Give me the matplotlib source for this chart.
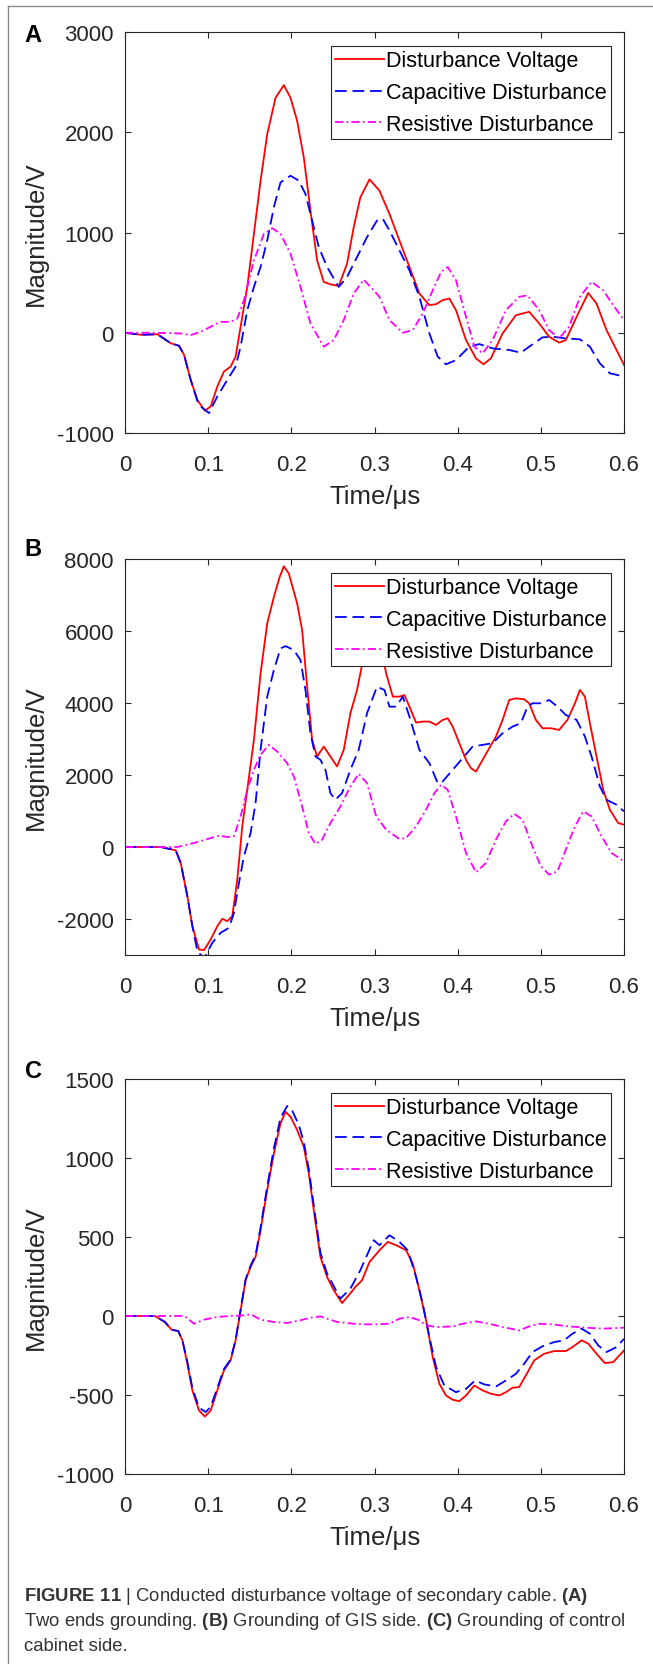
import matplotlib
matplotlib.use('Agg')
import matplotlib.pyplot as plt
from matplotlib.lines import Line2D

plt.rcParams['font.family'] = ['Liberation Sans', 'DejaVu Sans']
plt.rcParams['axes.unicode_minus'] = False
plt.rcParams['mathtext.fontset'] = 'custom'
plt.rcParams['mathtext.rm'] = 'Liberation Sans'
plt.rcParams['mathtext.bf'] = 'Liberation Sans:bold'

# ---------------- data ----------------
x_ticks = [0, 0.1, 0.2, 0.3, 0.4, 0.5, 0.6]
x_tick_labels = ['0', '0.1', '0.2', '0.3', '0.4', '0.5', '0.6']
series_names = ['Disturbance Voltage', 'Capacitive Disturbance', 'Resistive Disturbance']

# (A) two ends grounding
a_volt_t = [0, 0.019, 0.039, 0.055, 0.065, 0.071, 0.079, 0.087, 0.096, 0.103, 0.111, 0.119, 0.127,
            0.133, 0.139, 0.147, 0.155, 0.163, 0.171, 0.181, 0.191, 0.199, 0.207, 0.215, 0.223,
            0.231, 0.239, 0.247, 0.257, 0.267, 0.275, 0.283, 0.294, 0.306, 0.318, 0.330, 0.342,
            0.354, 0.366, 0.374, 0.382, 0.390, 0.398, 0.410, 0.422, 0.431, 0.440, 0.454, 0.470,
            0.486, 0.498, 0.510, 0.522, 0.530, 0.543, 0.557, 0.567, 0.579, 0.591, 0.600]
a_volt_v = [0, -20, -15, -105, -130, -220, -470, -670, -778, -735, -536, -387, -338,
            -238, 60, 457, 987, 1517, 1980, 2344, 2470, 2344, 2113, 1748, 1219,
            722, 507, 483, 467, 689, 1053, 1351, 1530, 1417, 1185, 920, 656,
            391, 275, 285, 325, 341, 225, -73, -255, -315, -255, -7, 175,
            209, 93, -40, -99, -73, 159, 397, 291, 26, -172, -321]
a_cap_t = [0, 0.019, 0.039, 0.055, 0.065, 0.071, 0.079, 0.087, 0.091, 0.101, 0.111, 0.123, 0.133,
           0.139, 0.147, 0.155, 0.163, 0.171, 0.179, 0.187, 0.199, 0.209, 0.217, 0.225, 0.233,
           0.243, 0.257, 0.267, 0.279, 0.291, 0.303, 0.310, 0.318, 0.330, 0.342, 0.354, 0.366,
           0.376, 0.386, 0.398, 0.414, 0.426, 0.442, 0.462, 0.476, 0.486, 0.502, 0.514, 0.530,
           0.547, 0.559, 0.571, 0.583, 0.600]
a_cap_v = [0, -20, -15, -105, -130, -220, -470, -680, -735, -801, -636, -470, -338,
           -139, 225, 457, 656, 920, 1252, 1500, 1566, 1517, 1384, 1119, 854,
           656, 457, 556, 755, 954, 1119, 1136, 1020, 821, 623, 358, -7,
           -238, -315, -272, -139, -113, -156, -172, -199, -139, -46, -40, -56,
           -66, -139, -305, -404, -437]
a_res_t = [0, 0.035, 0.067, 0.079, 0.091, 0.103, 0.115, 0.127, 0.135, 0.143, 0.155, 0.167, 0.177,
           0.187, 0.199, 0.211, 0.223, 0.239, 0.251, 0.263, 0.275, 0.287, 0.299, 0.306, 0.318,
           0.334, 0.346, 0.358, 0.370, 0.380, 0.388, 0.398, 0.410, 0.420, 0.430, 0.442, 0.458,
           0.474, 0.484, 0.498, 0.510, 0.522, 0.534, 0.547, 0.561, 0.575, 0.587, 0.600]
a_res_v = [0, 0, -7, -23, 10, 60, 109, 109, 142, 325, 722, 987, 1043,
           987, 788, 457, 93, -139, -73, 126, 391, 530, 424, 358, 126,
           0, 26, 192, 424, 606, 656, 523, 159, -139, -205, -73, 225,
           358, 374, 225, 26, -56, 60, 358, 507, 424, 275, 126]

# (B) grounding of GIS side
b_volt_t = [0, 0.043, 0.061, 0.067, 0.075, 0.081, 0.089, 0.095, 0.103, 0.111, 0.117, 0.123, 0.129,
            0.135, 0.141, 0.147, 0.155, 0.163, 0.171, 0.179, 0.186, 0.191, 0.197, 0.207, 0.213,
            0.219, 0.225, 0.231, 0.239, 0.247, 0.255, 0.263, 0.271, 0.279, 0.287, 0.298, 0.310,
            0.314, 0.322, 0.330, 0.336, 0.342, 0.350, 0.358, 0.366, 0.374, 0.382, 0.388, 0.394,
            0.402, 0.410, 0.416, 0.422, 0.430, 0.438, 0.446, 0.454, 0.462, 0.470, 0.480, 0.486,
            0.494, 0.502, 0.512, 0.522, 0.532, 0.541, 0.547, 0.553, 0.559, 0.567, 0.575, 0.583,
            0.593, 0.600]
b_volt_v = [0, 0, -92, -444, -1368, -2200, -2846, -2865, -2569, -2200, -1996, -2060, -1922,
            -906, 573, 1589, 2975, 4823, 6209, 6948, 7503, 7799, 7595, 6764, 6025,
            4454, 2975, 2513, 2790, 2513, 2236, 2698, 3714, 4361, 5285, 5800, 5285,
            4823, 4177, 4177, 4223, 3899, 3456, 3484, 3484, 3391, 3530, 3576, 3345,
            2883, 2421, 2190, 2097, 2421, 2744, 3068, 3530, 4084, 4130, 4103, 3992,
            3530, 3299, 3299, 3252, 3530, 3992, 4361, 4177, 3437, 2513, 1589, 1035,
            665, 619]
b_cap_t = [0, 0.043, 0.061, 0.067, 0.075, 0.081, 0.087, 0.095, 0.105, 0.115, 0.125, 0.131, 0.137,
           0.143, 0.151, 0.157, 0.163, 0.171, 0.179, 0.187, 0.193, 0.203, 0.211, 0.217, 0.223,
           0.229, 0.235, 0.241, 0.247, 0.253, 0.261, 0.271, 0.281, 0.291, 0.303, 0.312, 0.318,
           0.326, 0.334, 0.342, 0.354, 0.366, 0.376, 0.382, 0.394, 0.406, 0.418, 0.430, 0.442,
           0.454, 0.466, 0.476, 0.484, 0.490, 0.500, 0.510, 0.520, 0.530, 0.543, 0.553, 0.561,
           0.571, 0.579, 0.591, 0.600]
b_cap_v = [0, 0, -92, -444, -1368, -2200, -2890, -3100, -2660, -2384, -2245, -1830, -998,
           -259, 388, 1220, 2698, 4177, 4916, 5516, 5581, 5470, 5193, 4361, 3160,
           2513, 2421, 2144, 1497, 1312, 1497, 2144, 2698, 3714, 4454, 4361, 3899,
           3899, 4177, 3622, 2698, 2328, 1774, 1820, 2144, 2467, 2790, 2837, 2883,
           3160, 3345, 3437, 3899, 3992, 3992, 4084, 3899, 3668, 3530, 3068, 2513,
           1682, 1312, 1174, 989]
b_res_t = [0, 0.063, 0.083, 0.099, 0.113, 0.123, 0.131, 0.139, 0.147, 0.155, 0.163, 0.173, 0.183,
           0.195, 0.203, 0.213, 0.221, 0.229, 0.237, 0.247, 0.259, 0.271, 0.281, 0.291, 0.302,
           0.314, 0.330, 0.338, 0.350, 0.362, 0.372, 0.380, 0.388, 0.398, 0.410, 0.422, 0.434,
           0.446, 0.458, 0.468, 0.478, 0.490, 0.500, 0.510, 0.520, 0.530, 0.541, 0.551, 0.561,
           0.573, 0.585, 0.600]
b_res_v = [0, 0, 111, 222, 314, 277, 296, 850, 1589, 2144, 2559, 2837, 2652,
           2328, 1959, 1127, 388, 83, 203, 665, 1127, 1682, 2033, 1774, 850,
           480, 222, 250, 573, 1035, 1497, 1728, 1589, 850, -166, -702, -444,
           203, 711, 924, 758, 18, -536, -767, -675, -74, 573, 989, 850,
           296, -166, -397]

# (C) grounding of control cabinet side
c_volt_t = [0, 0.036, 0.048, 0.056, 0.064, 0.069, 0.075, 0.081, 0.089, 0.096, 0.103, 0.111, 0.119,
            0.127, 0.133, 0.139, 0.145, 0.151, 0.157, 0.163, 0.171, 0.179, 0.187, 0.193, 0.199,
            0.207, 0.215, 0.221, 0.227, 0.235, 0.243, 0.251, 0.261, 0.269, 0.277, 0.285, 0.294,
            0.306, 0.316, 0.326, 0.338, 0.346, 0.354, 0.362, 0.370, 0.378, 0.386, 0.394, 0.402,
            0.410, 0.420, 0.430, 0.440, 0.450, 0.458, 0.466, 0.474, 0.482, 0.492, 0.504, 0.516,
            0.530, 0.538, 0.549, 0.557, 0.567, 0.577, 0.587, 0.600]
c_volt_v = [0, 0, -38, -87, -95, -154, -302, -471, -598, -636, -598, -471, -344,
            -281, -154, 36, 226, 311, 374, 543, 797, 1029, 1219, 1293, 1261,
            1177, 1071, 902, 670, 374, 247, 163, 82, 131, 184, 226, 342,
            416, 469, 448, 416, 332, 163, -27, -260, -429, -503, -530, -539,
            -503, -440, -471, -492, -503, -482, -454, -450, -376, -281, -239, -222,
            -222, -197, -154, -175, -239, -298, -292, -218]
c_cap_t = [0, 0.036, 0.048, 0.056, 0.064, 0.069, 0.075, 0.081, 0.089, 0.097, 0.103, 0.111, 0.119,
           0.127, 0.133, 0.139, 0.145, 0.151, 0.157, 0.163, 0.171, 0.179, 0.187, 0.195, 0.201,
           0.209, 0.215, 0.221, 0.227, 0.235, 0.243, 0.259, 0.271, 0.283, 0.299, 0.306, 0.318,
           0.330, 0.340, 0.350, 0.358, 0.366, 0.374, 0.384, 0.398, 0.410, 0.421, 0.432, 0.446,
           0.458, 0.470, 0.480, 0.490, 0.502, 0.516, 0.528, 0.538, 0.549, 0.559, 0.569, 0.579,
           0.591, 0.600]
c_cap_v = [0, 0, -38, -87, -95, -154, -290, -455, -580, -608, -575, -455, -335,
           -275, -150, 40, 232, 318, 385, 560, 820, 1060, 1255, 1329, 1300,
           1210, 1100, 930, 700, 400, 268, 110, 173, 290, 480, 448, 511,
           469, 416, 247, 78, -133, -323, -440, -482, -461, -408, -433, -446,
           -408, -366, -302, -228, -192, -165, -154, -112, -80, -112, -186, -228,
           -197, -144]
c_res_t = [0, 0.063, 0.071, 0.083, 0.095, 0.111, 0.127, 0.143, 0.151, 0.163, 0.179, 0.195, 0.211,
           0.223, 0.235, 0.243, 0.255, 0.275, 0.291, 0.302, 0.318, 0.330, 0.342, 0.354, 0.362,
           0.374, 0.394, 0.406, 0.422, 0.438, 0.454, 0.474, 0.486, 0.498, 0.514, 0.534, 0.555,
           0.575, 0.600]
c_res_v = [0, 0, 2, -49, -23, -6, 0, 4, 11, -23, -38, -44, -27,
           -11, -2, -17, -38, -49, -53, -53, -49, -17, -6, -27, -59,
           -70, -66, -49, -34, -49, -70, -91, -66, -49, -53, -66, -74,
           -80, -74]

panels = [
    ('A', (a_volt_t, a_volt_v), (a_cap_t, a_cap_v), (a_res_t, a_res_v),
     (-1000, 3000), [-1000, 0, 1000, 2000, 3000]),
    ('B', (b_volt_t, b_volt_v), (b_cap_t, b_cap_v), (b_res_t, b_res_v),
     (-3000, 8000), [-2000, 0, 2000, 4000, 6000, 8000]),
    ('C', (c_volt_t, c_volt_v), (c_cap_t, c_cap_v), (c_res_t, c_res_v),
     (-1000, 1500), [-1000, -500, 0, 500, 1000, 1500]),
]

# ---------------- figure ----------------
W, H = 653, 1665
fig = plt.figure(figsize=(W / 100, H / 100), dpi=100)

# axes boxes in pixels: (left, top, right, bottom)
boxes = [(125, 33, 624, 434), (125, 560, 624, 956), (125, 1080, 624, 1475)]
letter_pos = [(33, 35), (33, 550), (33, 1072)]
dark = '#262626'

for (letter, volt, cap, res, ylim, yticks), (l, t, r, b), (lx, ly) in zip(panels, boxes, letter_pos):
    ax = fig.add_axes([l / W, 1 - b / H, (r - l) / W, (b - t) / H])
    ax.plot(volt[0], volt[1], color='#ff0000', lw=1.3, label=series_names[0])
    ax.plot(cap[0], cap[1], color='#0000ff', lw=1.3, dashes=(6.5, 3.2), label=series_names[1])
    ax.plot(res[0], res[1], color='#ff00ff', lw=1.3, dashes=(4.5, 1.8, 1.0, 1.8), label=series_names[2])
    ax.set_xlim(0, 0.6)
    ax.set_ylim(*ylim)
    ax.set_xticks(x_ticks)
    ax.set_xticklabels(x_tick_labels)
    ax.set_yticks(yticks)
    ax.set_yticklabels([str(v) for v in yticks])
    ax.tick_params(direction='in', length=4, width=0.8, top=True, right=True,
                   labelsize=16, colors=dark)
    ax.tick_params(axis='x', pad=15)
    ax.tick_params(axis='y', pad=8)
    for sp in ax.spines.values():
        sp.set_color(dark)
        sp.set_linewidth(0.8)
    ax.set_xlabel('Time/μs', fontsize=18.5, color=dark)
    ax.set_ylabel('Magnitude/V', fontsize=18.5, color=dark)
    ax.xaxis.set_label_coords(0.5, -51 / (b - t))
    ax.yaxis.set_label_coords(-77 / (r - l), 0.5)
    leg = ax.legend(loc='upper right', bbox_to_anchor=(0.974, 0.965), borderaxespad=0,
                    fancybox=False, edgecolor=dark, framealpha=1, fontsize=15.5,
                    handlelength=2.25, handletextpad=0.1, borderpad=0.2, labelspacing=0.5)
    leg.get_frame().set_linewidth(0.8)
    fig.text(lx / W, 1 - ly / H, letter, fontsize=17, fontweight='bold',
             ha='center', va='center')

# thin frame round the figure (left and top)
fig.add_artist(Line2D([8 / W, 8 / W], [0, 1 - 7 / H], transform=fig.transFigure,
                      color='#8a8a8a', lw=1.0))
fig.add_artist(Line2D([8 / W, 1], [1 - 7 / H, 1 - 7 / H], transform=fig.transFigure,
                      color='#8a8a8a', lw=1.0))

# caption
cap_lines = [
    r'$\mathbf{FIGURE\ 11}$ | Conducted disturbance voltage of secondary cable. $\mathbf{(A)}$',
    r'Two ends grounding. $\mathbf{(B)}$ Grounding of GIS side. $\mathbf{(C)}$ Grounding of control',
    'cabinet side.',
]
for i, line in enumerate(cap_lines):
    fig.text(24 / W, 1 - (1597 + 25 * i) / H, line, fontsize=13.3, color='#333333',
             ha='left', va='center')

fig.savefig('out.png', dpi=100)
